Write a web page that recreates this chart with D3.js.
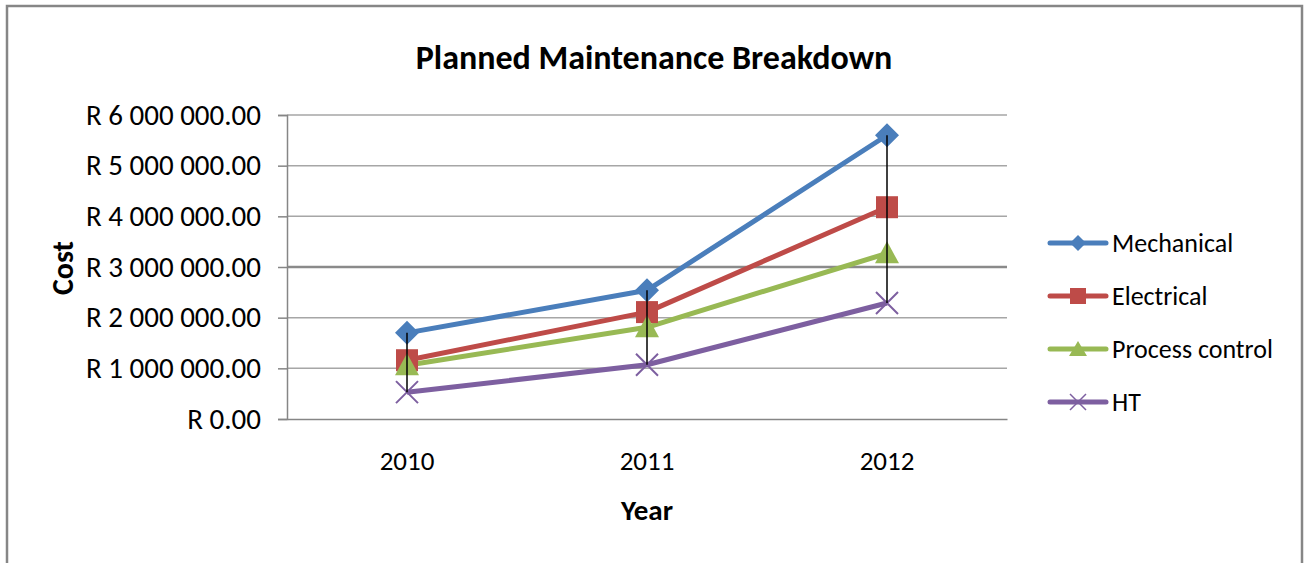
<!DOCTYPE html>
<html>
<head>
<meta charset="utf-8">
<script src="https://cdn.jsdelivr.net/npm/d3@7"></script>
<style>
  body { margin: 0; background: #fff; }
  text { font-family: Carlito, Calibri, Lato, "Open Sans", sans-serif; fill: #000; }
</style>
</head>
<body>
<svg id="chart"></svg>
<script>
// data
var years = ["2010", "2011", "2012"];
var seriesNames = ["Mechanical", "Electrical", "Process control", "HT"];
var mechanical = [1700000, 2540000, 5600000];
var electrical = [1160000, 2110000, 4180000];
var processControl = [1060000, 1810000, 3270000];
var ht = [530000, 1070000, 2290000];
var yTicks = [0, 1000000, 2000000, 3000000, 4000000, 5000000, 6000000];

var colors = ["#4a7ebb", "#be4b48", "#98b954", "#7d5fa0"];
var symbols = ["diamond", "square", "triangle", "x"];

// basic settings
var width = 1306, height = 563;
var plotLeft = 287, plotRight = 1007, plotTop = 115, plotBottom = 419;

var svg = d3.select("#chart").attr("width", width).attr("height", height);

// outer frame (no bottom edge visible)
svg.append("path")
  .attr("d", "M7,563 V6 H1302 V563")
  .attr("fill", "none").attr("stroke", "#868686").attr("stroke-width", 2.5);

var x = d3.scaleBand().domain(years).range([plotLeft, plotRight]);
var y = d3.scaleLinear().domain([0, 6000000]).range([plotBottom, plotTop]);

// gridlines
svg.append("g").selectAll("line")
  .data(yTicks.slice(1))
  .enter().append("line")
  .attr("x1", plotLeft).attr("x2", plotRight)
  .attr("y1", function(d) { return y(d); })
  .attr("y2", function(d) { return y(d); })
  .attr("stroke", function(d) { return d == 3000000 ? "#8a8a8a" : "#a6a6a6"; })
  .attr("stroke-width", function(d) { return d == 3000000 ? 2.5 : 1.5; });

// y axis
function rand(d) {
  var s = d3.format(",.2f")(d).replace(/,/g, " ");
  return "R " + s;
}
var yAxis = d3.axisLeft(y).tickValues(yTicks).tickSize(9).tickPadding(17).tickFormat(rand);
var gy = svg.append("g").attr("transform", "translate(" + plotLeft + ",0)").call(yAxis);
gy.select(".domain").attr("stroke", "#868686").attr("stroke-width", 1.5);
gy.selectAll(".tick line").attr("stroke", "#868686").attr("stroke-width", 1.5);
gy.selectAll(".tick text").attr("font-size", 29).style("font-family", "Carlito, Calibri, Lato, sans-serif").attr("fill", "#000");

// x axis
var xAxis = d3.axisBottom(x).tickSize(0).tickPadding(32);
var gx = svg.append("g").attr("transform", "translate(0," + plotBottom + ")").call(xAxis);
gx.select(".domain").attr("stroke", "#868686").attr("stroke-width", 1.5);
gx.selectAll(".tick text").attr("font-size", 27).style("font-family", "Carlito, Calibri, Lato, sans-serif").attr("fill", "#000");

var data = [mechanical, electrical, processControl, ht];

var line = d3.line()
  .x(function(d, i) { return x(years[i]) + x.bandwidth() / 2; })
  .y(function(d) { return y(d); });

function marker(g, type, color) {
  if (type == "diamond") {
    g.append("path").attr("d", "M0,-12 L12,0 L0,12 L-12,0 Z").attr("fill", color);
  } else if (type == "square") {
    g.append("rect").attr("x", -11).attr("y", -11).attr("width", 22).attr("height", 22).attr("fill", color);
  } else if (type == "triangle") {
    g.append("path").attr("d", "M0,-12 L12,10 L-12,10 Z").attr("fill", color);
  } else {
    g.append("path").attr("d", "M-11,-11 L11,11 M-11,11 L11,-11").attr("stroke", color).attr("stroke-width", 2);
  }
}

data.forEach(function(s, k) {
  svg.append("path")
    .datum(s)
    .attr("d", line)
    .attr("fill", "none")
    .attr("stroke", colors[k])
    .attr("stroke-width", 5)
    .attr("stroke-linejoin", "round");
});
data.forEach(function(s, k) {
  s.forEach(function(v, i) {
    var g = svg.append("g")
      .attr("transform", "translate(" + (x(years[i]) + x.bandwidth() / 2) + "," + y(v) + ")");
    marker(g, symbols[k], colors[k]);
  });
});

// high-low lines, drawn on top like the original
svg.append("g").selectAll("line")
  .data(years)
  .enter().append("line")
  .attr("x1", function(d) { return x(d) + x.bandwidth() / 2; })
  .attr("x2", function(d) { return x(d) + x.bandwidth() / 2; })
  .attr("y1", function(d, i) { return y(d3.max(data, function(s) { return s[i]; })); })
  .attr("y2", function(d, i) { return y(d3.min(data, function(s) { return s[i]; })); })
  .attr("stroke", "#000").attr("stroke-width", 1.5);

// legend
var legend = svg.append("g").attr("class", "legend");
seriesNames.forEach(function(name, k) {
  var ly = 243 + k * 53;
  legend.append("line")
    .attr("x1", 1050).attr("x2", 1106).attr("y1", ly).attr("y2", ly)
    .attr("stroke", colors[k]).attr("stroke-width", 5).attr("stroke-linecap", "round");
  var g = legend.append("g").attr("transform", "translate(1078," + ly + ")");
  if (symbols[k] == "diamond") g.append("path").attr("d", "M0,-8 L8,0 L0,8 L-8,0 Z").attr("fill", colors[k]);
  else if (symbols[k] == "square") g.append("rect").attr("x", -8).attr("y", -8).attr("width", 16).attr("height", 16).attr("fill", colors[k]);
  else if (symbols[k] == "triangle") g.append("path").attr("d", "M0,-8 L9,7 L-9,7 Z").attr("fill", colors[k]);
  else g.append("path").attr("d", "M-8,-8 L8,8 M-8,8 L8,-8").attr("stroke", colors[k]).attr("stroke-width", 1.5);
  legend.append("text")
    .attr("x", 1112).attr("y", ly)
    .attr("dy", "0.35em")
    .attr("font-size", 26)
    .text(name);
});

// titles
svg.append("text")
  .attr("x", 654).attr("y", 57)
  .attr("text-anchor", "middle").attr("dy", "0.35em")
  .attr("font-size", 34).attr("font-weight", "bold")
  .text("Planned Maintenance Breakdown");

svg.append("text")
  .attr("transform", "translate(62,268) rotate(-90)")
  .attr("text-anchor", "middle").attr("dy", "0.35em")
  .attr("font-size", 30).attr("font-weight", "bold")
  .text("Cost");

svg.append("text")
  .attr("x", 647).attr("y", 510)
  .attr("text-anchor", "middle").attr("dy", "0.35em")
  .attr("font-size", 29).attr("font-weight", "bold")
  .text("Year");
</script>
</body>
</html>
